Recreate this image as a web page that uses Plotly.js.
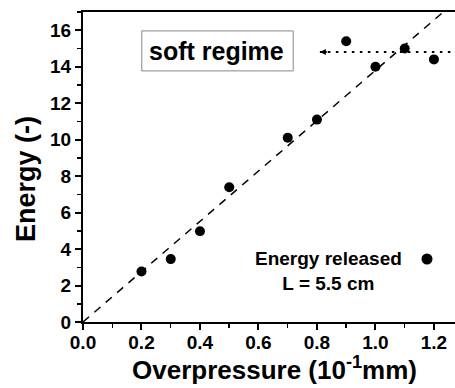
<!DOCTYPE html>
<html>
<head>
<meta charset="utf-8">
<script src="https://cdn.plot.ly/plotly-3.0.1.min.js"></script>
<style>html,body{margin:0;padding:0;background:#fff;}#chart{width:455px;height:388px;}</style>
</head>
<body>
<div id="chart"></div>
<script>
// Data
var overpressure = [0.2, 0.3, 0.4, 0.5, 0.7, 0.8, 0.9, 1.0, 1.1, 1.2];
var energy = [2.77, 3.45, 4.98, 7.39, 10.1, 11.1, 15.4, 14.0, 15.0, 14.4];
var fitX = [0, 1.232];
var fitY = [0, 17];
var plateauX = [0.81, 1.3];
var plateauY = [14.8, 14.8];
var xTickVals = [0, 0.2, 0.4, 0.6, 0.8, 1.0, 1.2];
var xTickText = ['0.0', '0.2', '0.4', '0.6', '0.8', '1.0', '1.2'];
var yTickVals = [0, 2, 4, 6, 8, 10, 12, 14, 16];

var FONT = 'Liberation Sans, Arial, sans-serif';

var traces = [
  {x: fitX, y: fitY, mode: 'lines', type: 'scatter', showlegend: false, hoverinfo: 'skip',
   line: {color: '#000', width: 1.5, dash: '8px,7px'}},
  {x: plateauX, y: plateauY, mode: 'lines', type: 'scatter', showlegend: false, hoverinfo: 'skip',
   line: {color: '#000', width: 2, dash: '2.5px,5.5px'}},
  {x: overpressure, y: energy, mode: 'markers', type: 'scatter', showlegend: false,
   marker: {color: '#000', size: 10}}
];

var axisCommon = {
  showgrid: false, zeroline: false, showline: true, linecolor: '#000', linewidth: 2,
  ticks: 'outside', ticklen: 6, tickwidth: 2, tickcolor: '#000',
  tickfont: {family: FONT, size: 19, color: '#000', weight: 'bold'}
};

var layout = {
  width: 455, height: 388,
  margin: {l: 83, r: 0, t: 12, b: 66},
  paper_bgcolor: '#fff', plot_bgcolor: '#fff',
  showlegend: false,
  xaxis: Object.assign({}, axisCommon, {
    range: [0, 1.272], tickmode: 'array', tickvals: xTickVals, ticktext: xTickText,
    mirror: true, ticklabelstandoff: -4,
    minor: {dtick: 0.1, tick0: 0, ticks: 'outside', ticklen: 4, tickwidth: 1.5, tickcolor: '#000'}
  }),
  yaxis: Object.assign({}, axisCommon, {
    range: [0, 17], tickmode: 'array', tickvals: yTickVals,
    minor: {dtick: 1, tick0: 0, ticks: 'outside', ticklen: 4, tickwidth: 1.5, tickcolor: '#000'}
  }),
  shapes: [
    {type: 'rect', xref: 'paper', yref: 'paper', x0: 0.158, x1: 0.565, y0: 0.81, y1: 0.939,
     line: {color: '#888', width: 1}, fillcolor: 'rgba(0,0,0,0)'},
    {type: 'circle', xref: 'paper', yref: 'paper', xsizemode: 'pixel', ysizemode: 'pixel',
     xanchor: 0.9247, yanchor: 0.2032, x0: -5.5, x1: 5.5, y0: -5.5, y1: 5.5,
     fillcolor: '#000', line: {color: '#000', width: 0}}
  ],
  annotations: [
    {xref: 'paper', yref: 'paper', x: 0.360, y: 0.874, xanchor: 'center', yanchor: 'middle',
     text: 'soft regime', showarrow: false,
     font: {family: FONT, size: 25, color: '#000', weight: 'bold'}},
    {xref: 'paper', yref: 'paper', x: 0.661, y: 0.166, xanchor: 'center', yanchor: 'middle',
     text: 'Energy released<br>L = 5.5 cm', showarrow: false, align: 'center',
     font: {family: FONT, size: 19, color: '#000', weight: 'bold'}},
    {xref: 'paper', yref: 'paper', x: (274 - 83) / 372, y: (322 - 368) / 310,
     xanchor: 'center', yanchor: 'middle',
     text: 'Overpressure (10<sup>-1</sup>mm)', showarrow: false,
     font: {family: FONT, size: 26, color: '#000', weight: 'bold'}},
    {xref: 'paper', yref: 'paper', x: (26 - 83) / 372, y: (322 - 179) / 310,
     xanchor: 'center', yanchor: 'middle', textangle: -90,
     text: 'Energy (-)', showarrow: false,
     font: {family: FONT, size: 27, color: '#000', weight: 'bold'}},
    {x: plateauX[0], y: plateauY[0], ax: plateauX[0] + 0.03, ay: plateauY[0], axref: 'x', ayref: 'y',
     text: '', showarrow: true, arrowhead: 2, arrowsize: 0.8, arrowwidth: 1.5, arrowcolor: '#000'}
  ]
};

Plotly.newPlot('chart', traces, layout, {staticPlot: true, displayModeBar: false});
</script>
</body>
</html>
